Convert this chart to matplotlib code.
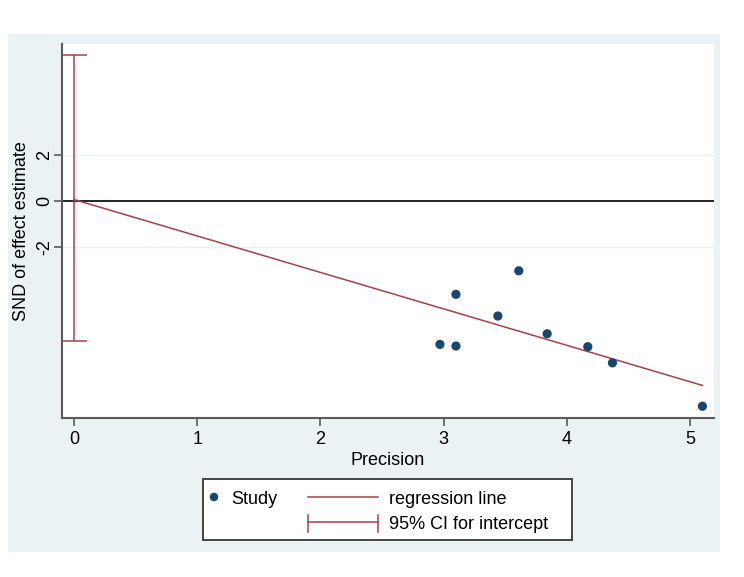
import matplotlib
matplotlib.use("Agg")
import matplotlib.pyplot as plt
from matplotlib.patches import Rectangle
import numpy as np

plt.rcParams['font.family'] = ['Liberation Sans', 'DejaVu Sans']

# ---- data ----
precision = [2.97, 3.10, 3.10, 3.61, 3.44, 3.84, 4.17, 4.37, 5.10]
snd = [-6.21, -6.28, -4.04, -3.02, -4.98, -5.75, -6.31, -7.01, -8.89]
reg_intercept = 0.07
reg_slope = -1.58
ci_low, ci_high = -6.07, 6.34
x_ticks = [0, 1, 2, 3, 4, 5]
y_ticks = [-2, 0, 2]
legend_labels = ["Study", "regression line", "95% CI for intercept"]

W, H = 744, 577
BG = "#EAF2F3"
NAVY = "#1a476f"
RED = "#a8404a"
FS = 13

fig = plt.figure(figsize=(W / 100, H / 100), dpi=100)
fig.patch.set_facecolor("white")
fig.patches.append(Rectangle((8 / W, (H - 552) / H), (720 - 8) / W, (552 - 33.5) / H,
                             transform=fig.transFigure, facecolor=BG, edgecolor="none", zorder=-10))

def fx(px):
    return px / W

def fy(py):
    return (H - py) / H

ax = fig.add_axes([fx(62), fy(418), (713.5 - 62) / W, (418 - 44) / H])
ax.set_facecolor("white")
ax.set_xlim(-0.097, 5.19)
ax.set_ylim(-9.40, 6.81)

for s in ["top", "right"]:
    ax.spines[s].set_visible(False)
for s in ["left", "bottom"]:
    ax.spines[s].set_color("#5a5a5a")
    ax.spines[s].set_linewidth(1.5)

ax.set_xticks(x_ticks)
ax.set_yticks(y_ticks)
ax.set_yticklabels([str(v) for v in y_ticks], rotation=90, va="center")
ax.tick_params(axis="both", direction="out", length=5.5, width=1.2, color="#5a5a5a",
               labelsize=FS, labelcolor="black")
ax.tick_params(axis="x", pad=3.5)
ax.tick_params(axis="y", pad=1.0)

# faint gridlines
for v in y_ticks:
    if v != 0:
        ax.axhline(v, color=BG, lw=1.0, zorder=1)
# zero line
ax.axhline(0, color="black", lw=1.2, zorder=2)

# regression line
xr = np.array([0, max(precision)])
ax.plot(xr, reg_intercept + reg_slope * xr, color=RED, lw=1.1, zorder=3)

# CI for intercept
ax.errorbar([0], [(ci_low + ci_high) / 2], yerr=[[(ci_high - ci_low) / 2]], fmt="none",
            ecolor=RED, elinewidth=1.1, capsize=9.5, capthick=1.1, zorder=3)

# study points
ax.scatter(precision, snd, s=44, color=NAVY, edgecolors="none", zorder=4)

ax.set_xlabel("Precision", fontsize=FS, labelpad=3)
ax.set_ylabel("SND of effect estimate", fontsize=FS, labelpad=4)

# ---- legend (manual, in pixel coords) ----
lg = fig.add_axes([fx(203), fy(540), (572 - 203) / W, (540 - 479) / H])
lg.set_xlim(203, 572)
lg.set_ylim(540, 479)
lg.set_xticks([])
lg.set_yticks([])
lg.set_facecolor("white")
for s in lg.spines.values():
    s.set_color("#444444")
    s.set_linewidth(1.4)

lg.scatter([214], [497], s=38, color=NAVY, edgecolors="none")
lg.text(231, 499, legend_labels[0], fontsize=FS, va="center", ha="left")
lg.plot([308, 378], [496.7, 496.7], color=RED, lw=1.1)
lg.text(389, 499, legend_labels[1], fontsize=FS, va="center", ha="left")
lg.plot([308, 378], [522, 522], color=RED, lw=1.1)
lg.plot([308, 308], [515, 531.5], color=RED, lw=1.1)
lg.plot([378, 378], [515, 531.5], color=RED, lw=1.1)
lg.text(389, 524.5, legend_labels[2], fontsize=FS, va="center", ha="left")

fig.savefig("out.png", dpi=100, facecolor=fig.get_facecolor())
